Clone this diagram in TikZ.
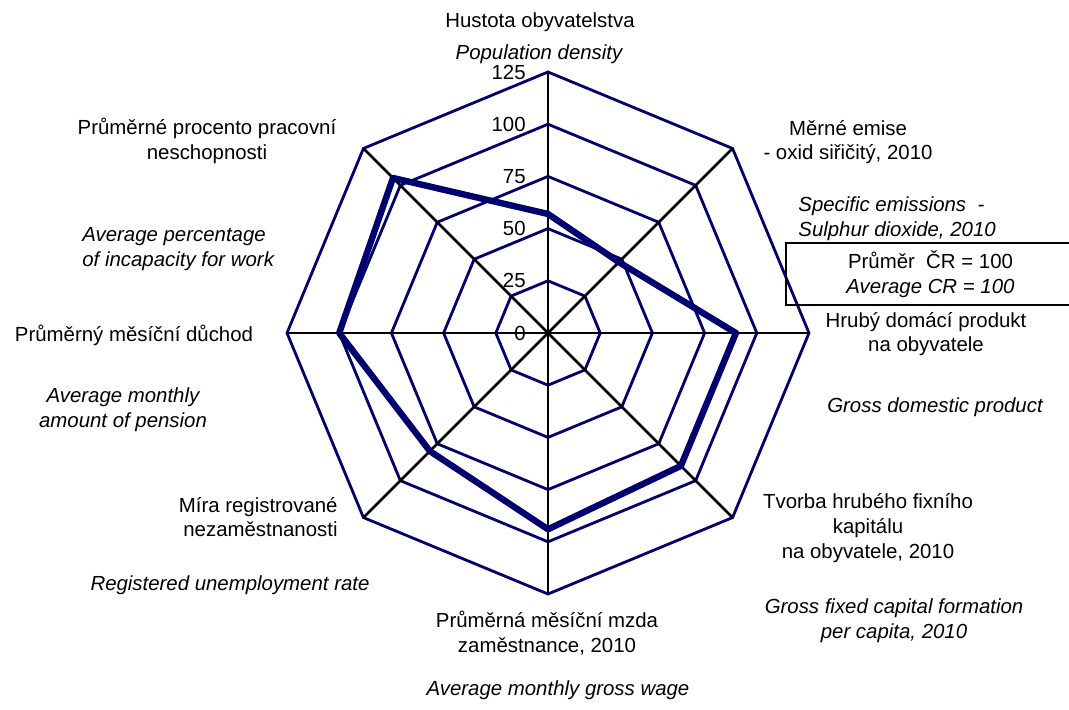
\documentclass[tikz,border=0pt]{standalone}
\usepackage{fontspec}
\setmainfont{Liberation Sans}

\definecolor{ringblue}{RGB}{0,0,110}

\begin{document}
\begin{tikzpicture}[
  x=0.5pt, y=0.5pt,
  lbl/.style={font=\fontsize{10.2}{12.3}\selectfont, align=center, inner sep=0pt},
  eng/.style={lbl, font=\fontsize{10.2}{12.3}\selectfont\itshape},
  ring/.style={draw=ringblue, line width=1.4pt, line join=miter},
  spoke/.style={draw=black, line width=1.25pt},
  series/.style={draw=ringblue, line width=3.2pt, line join=round},
  tick/.style={font=\fontsize{10.2}{12}\selectfont, anchor=east, inner sep=0pt}
]

\useasboundingbox (0,0) rectangle (1069,709);
\clip (0,0) rectangle (1069,709);

% radar chart, one unit = one index point
\begin{scope}[shift={(548,376)}, x=1.044pt, y=1.044pt]
  \coordinate (c) at (0,0);

  % scale labels
  \foreach \v in {0,25,...,125}
    \node[tick] (t\v) at (-10.5,\v) {\v};

  % rings
  \foreach \v in {25,50,...,125}
    \draw[ring] (0:\v) \foreach \a in {45,90,...,315} { -- (\a:\v) } -- cycle;

  % spokes
  \foreach \a in {0,45,...,315}
    \draw[spoke] (c) -- (\a:125);

  % region values
  \draw[series] (90:57) -- (45:48) -- (0:90) -- (-45:90) -- (-90:94)
    -- (-135:80) -- (180:100) -- (135:105) -- cycle;
\end{scope}

% axis labels
\node[lbl] (dens) at (540,687) {Hustota obyvatelstva};
\node[eng] (densen) at (539,655) {Population density};

\node[lbl] (so2) at (848,567) {Měrné emise\\- oxid siřičitý, 2010};
\node[eng, align=left, anchor=west] (so2en) at (798,490) {Specific emissions\ \ -\\Sulphur dioxide, 2010};

% legend box, cut by the right edge
\node[lbl, draw, line width=1.4pt, minimum width=144.5pt, minimum height=31pt] (avg) at (930.5,435)
  {Průměr\ \ ČR = 100\\\textit{Average CR = 100}};

\node[lbl] (gdp) at (926,375) {Hrubý domácí produkt\\na obyvatele};
\node[eng] (gdpen) at (935,302) {Gross domestic product};

\node[lbl] (gfcf) at (868,181) {Tvorba hrubého fixního\\kapitálu\\na obyvatele, 2010};
\node[eng] (gfcfen) at (894,88) {Gross fixed capital formation\\per capita, 2010};

\node[lbl] (wage) at (547,76) {Průměrná měsíční mzda\\zaměstnance, 2010};
\node[eng] (wageen) at (558,19) {Average monthly gross wage};

\node[lbl, align=right, anchor=east] (unemp) at (338,192) {Míra registrované\\nezaměstnanosti};
\node[eng] (unempen) at (230,124) {Registered unemployment rate};

\node[lbl] (pens) at (134,374) {Průměrný měsíční důchod};
\node[eng] (pensen) at (123,299) {Average monthly\\amount of pension};

\node[lbl] (sick) at (207,568) {Průměrné procento pracovní\\neschopnosti};
\node[eng, align=left, anchor=west] (sicken) at (82,460) {Average percentage\\of incapacity for work};

\end{tikzpicture}
\end{document}
